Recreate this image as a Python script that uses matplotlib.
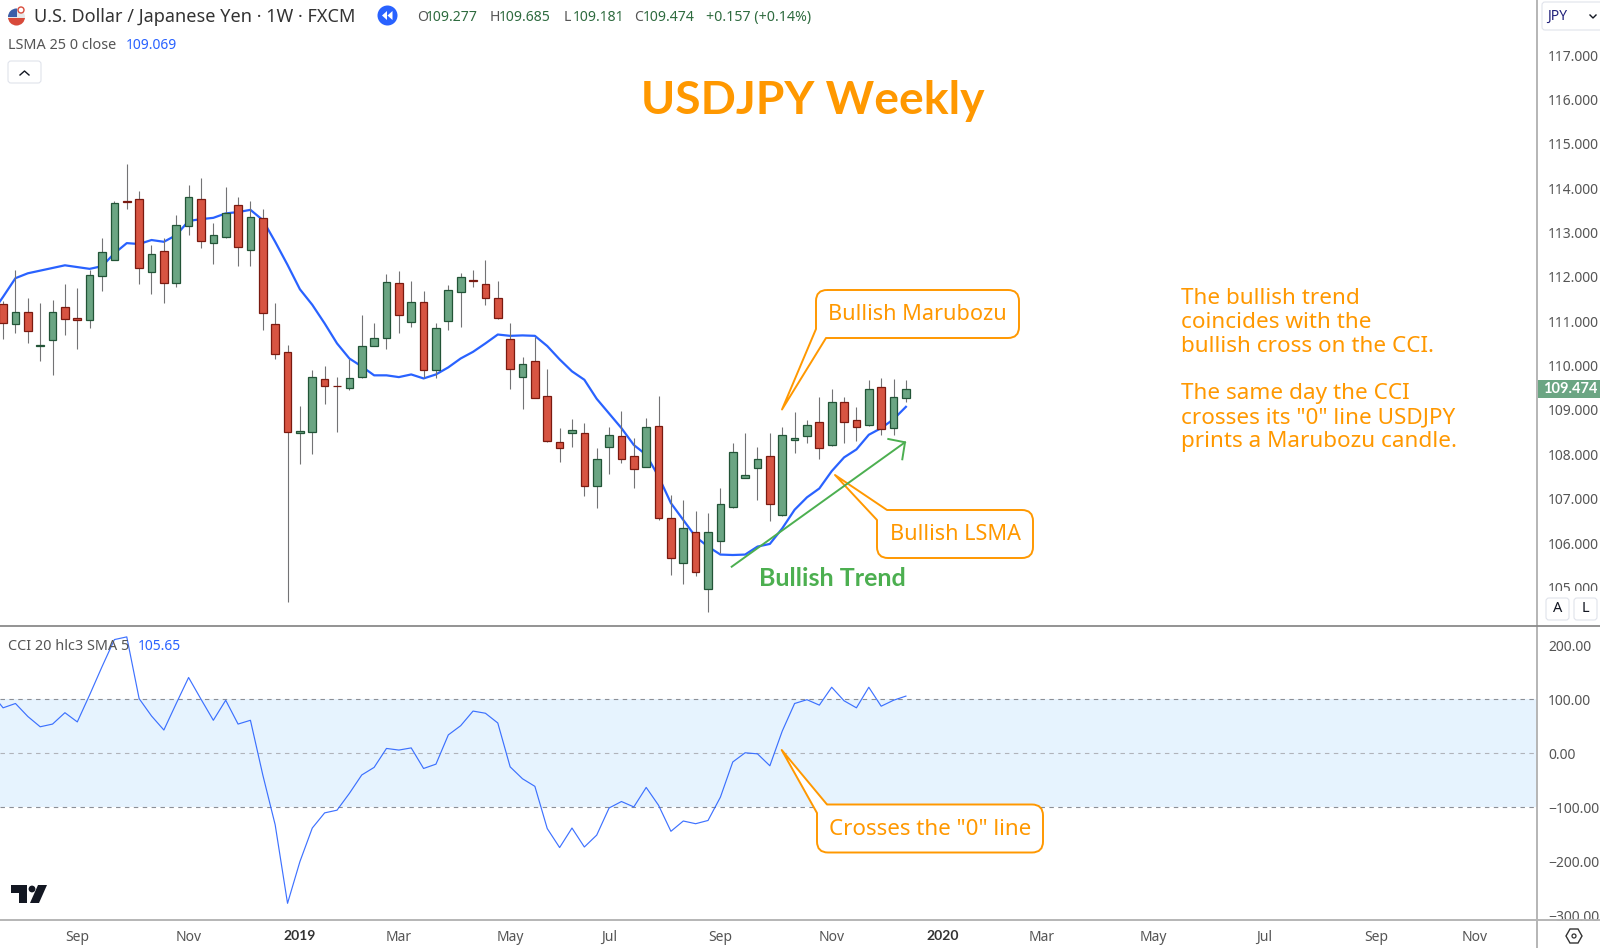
from matplotlib import pyplot as plt
from matplotlib.patches import Circle, FancyBboxPatch, PathPatch, Polygon, Rectangle
from matplotlib.path import Path
import numpy as np

# weekly candles, one row of values per bar
opens = [111.38, 110.93, 111.20, 110.45, 110.58, 111.31, 111.07, 111.03, 112.01, 112.39,
         113.70, 113.75, 112.12, 112.58, 111.85, 113.15, 113.76, 112.76, 112.89, 113.63,
         112.60, 113.32, 110.93, 110.31, 108.49, 108.50, 109.69, 109.535, 109.50, 109.74,
         110.43, 110.63, 111.85, 110.99, 111.43, 109.90, 111.01, 111.65, 111.925, 111.84,
         111.52, 110.59, 109.75, 110.10, 109.32, 108.27, 108.47, 108.47, 107.29, 108.17,
         108.41, 107.96, 107.71, 108.63, 106.57, 105.54, 106.24, 104.97, 106.05, 106.81,
         107.46, 107.70, 107.96, 106.63, 108.32, 108.41, 108.72, 108.21, 109.17, 108.77,
         108.66, 109.51, 108.60, 109.277]
highs = [111.45, 112.15, 111.52, 111.42, 111.48, 111.83, 111.74, 112.15, 112.88, 113.71,
         114.54, 113.94, 112.72, 112.88, 113.39, 114.07, 114.22, 113.21, 114.03, 113.81,
         113.71, 113.52, 111.40, 110.46, 109.08, 109.89, 109.99, 109.74, 110.15, 111.13,
         110.95, 112.07, 112.13, 111.90, 111.68, 110.95, 111.81, 112.08, 112.16, 112.38,
         111.90, 110.95, 110.19, 110.65, 109.92, 108.60, 108.79, 108.70, 108.15, 108.62,
         108.98, 108.36, 108.81, 109.31, 107.08, 106.97, 106.72, 106.67, 107.23, 108.25,
         108.47, 108.17, 108.47, 108.62, 108.95, 108.77, 109.29, 109.47, 109.29, 109.07,
         109.68, 109.71, 109.70, 109.685]
lows = [110.60, 110.73, 110.52, 110.11, 109.79, 110.68, 110.37, 110.85, 111.67, 112.39,
        113.53, 111.84, 111.62, 111.40, 111.78, 112.95, 112.66, 112.30, 112.87, 112.24,
        112.24, 110.80, 110.15, 104.67, 107.78, 108.00, 109.14, 108.51, 109.44, 109.73,
        110.43, 110.37, 110.74, 110.88, 109.71, 109.71, 110.81, 110.86, 111.78, 111.37,
        111.05, 109.47, 109.02, 109.26, 108.27, 107.82, 108.17, 107.05, 106.78, 107.55,
        107.80, 107.23, 107.71, 106.52, 105.28, 105.07, 105.26, 104.45, 105.77, 106.78,
        107.46, 106.97, 106.50, 106.62, 108.04, 108.25, 107.89, 108.19, 108.25, 108.29,
        108.64, 108.44, 108.44, 109.181]
closes = [110.97, 111.20, 110.79, 110.46, 111.20, 111.04, 111.03, 112.04, 112.55, 113.66,
          113.69, 112.19, 112.51, 111.87, 113.17, 113.79, 112.81, 112.94, 113.45, 112.68,
          113.36, 111.18, 110.25, 108.50, 108.53, 109.75, 109.54, 109.53, 109.71, 110.43,
          110.62, 111.88, 111.14, 111.43, 109.90, 110.84, 111.70, 111.99, 111.915, 111.53,
          111.07, 109.92, 110.04, 109.26, 108.29, 108.15, 108.55, 107.29, 107.89, 108.44,
          107.89, 107.68, 108.62, 106.57, 105.67, 106.33, 105.35, 106.24, 106.89, 108.05,
          107.53, 107.90, 106.89, 108.43, 108.36, 108.66, 108.15, 109.19, 108.72, 108.62,
          109.47, 108.56, 109.30, 109.474]

# these two also have the bar before the first visible candle
lsma = [111.15, 111.55, 111.97, 112.08, 112.14, 112.20, 112.26, 112.22, 112.18, 112.24, 112.53,
        112.76, 112.74, 112.83, 112.79, 112.94, 113.26, 113.30, 113.33, 113.43, 113.46,
        113.51, 113.28, 112.79, 112.27, 111.72, 111.37, 110.95, 110.50, 110.16, 109.98,
        109.78, 109.78, 109.74, 109.80, 109.71, 109.80, 109.96, 110.16, 110.31, 110.50,
        110.70, 110.67, 110.68, 110.67, 110.44, 110.14, 109.87, 109.68, 109.25, 108.92,
        108.59, 108.21, 107.99, 107.50, 106.90, 106.52, 106.14, 105.92, 105.74, 105.73,
        105.74, 105.92, 105.98, 106.33, 106.75, 107.03, 107.23, 107.62, 107.93, 108.11,
        108.44, 108.59, 108.79, 109.07]
cci = [112, 84, 92, 68, 49, 54, 75, 58, 108, 160, 210,
       215, 101, 69, 43, 92, 140, 100, 61, 98, 54,
       61, -40, -132, -277, -200, -138, -110, -105, -74, -40,
       -26, 9, 6, 10, -28, -20, 34, 51, 78, 74,
       56, -25, -47, -61, -139, -174, -138, -173, -151, -101,
       -89, -99, -63, -96, -144, -125, -130, -124, -81, -16,
       1, -1, -23, 41, 92, 99, 89, 122, 97, 84,
       122, 87, 98, 105.65]

price_ticks = [105, 106, 107, 108, 109, 110, 111, 112, 113, 114, 115, 116, 117]
cci_ticks = [200, 100, 0, -100, -200, -300]
time_bars = [6, 15, 24, 32, 41, 49, 58, 67, 76, 84, 93, 102, 111, 119]
time_labels = ['Sep', 'Nov', '2019', 'Mar', 'May', 'Jul', 'Sep', 'Nov', '2020', 'Mar', 'May', 'Jul', 'Sep', 'Nov']

UP = '#6ba583'
DOWN = '#d75442'
UP_EDGE = '#225437'
DOWN_EDGE = '#7a1a10'
BLUE = '#2962ff'
ORANGE = '#ff9800'
GREEN = '#4caf50'
GREY = '#555555'
FONT = 'Noto Sans'
BOLD = 'Lato'

W, H = 1600, 948
plt.rcParams['font.family'] = FONT
fig = plt.figure(figsize=(W / 100, H / 100), dpi=100)


def axes_px(left, top, right, bottom):
    return fig.add_axes([left / W, 1 - bottom / H, (right - left) / W, (bottom - top) / H])


# pixel positions of the chart frame
ax = axes_px(0, 0, 1537, 626)
ax2 = axes_px(0, 626, 1537, 920)

xlim = (-0.25, 124.03)
ax.set_xlim(xlim)
ax2.set_xlim(xlim)
ax.set_ylim(104.13, 118.24)
ax2.set_ylim(-307.8, 235.1)

# candles
bars = np.arange(len(opens))
o = np.array(opens)
c = np.array(closes)
up = c >= o
ax.plot(np.arange(-1, 74), lsma, color=BLUE, lw=1.6, zorder=2, solid_joinstyle='round')
ax.vlines(bars, lows, highs, color='#737375', lw=0.8, zorder=3)
ax.bar(bars, np.abs(c - o), bottom=np.minimum(o, c), width=0.62,
       color=[UP if u else DOWN for u in up],
       edgecolor=[UP_EDGE if u else DOWN_EDGE for u in up], linewidth=0.9, zorder=4)

ax2.axhspan(-100, 100, color='#e6f3fe', lw=0, zorder=1)
ax2.axhline(100, color='#8c8f96', lw=0.8, dashes=(4, 4), zorder=2)
ax2.axhline(0, color='#b0b3ba', lw=0.8, dashes=(4, 4), zorder=2)
ax2.axhline(-100, color='#8c8f96', lw=0.8, dashes=(4, 4), zorder=2)
ax2.plot(np.arange(-1, 74), cci, color=BLUE, lw=0.85, zorder=3, alpha=0.9)

for a in (ax, ax2):
    a.yaxis.tick_right()
    a.tick_params(axis='y', length=0, pad=8, labelsize=10, labelcolor=GREY)
    for s in ('left', 'top', 'bottom'):
        a.spines[s].set_visible(False)
    a.spines['right'].set_color('#b5b5b5')
    a.spines['right'].set_linewidth(1.4)

ax.set_xticks([])
ax.set_yticks(price_ticks, ['%.3f' % v for v in price_ticks])
ax2.set_yticks(cci_ticks, [('%.2f' % v).replace('-', '\u2212') for v in cci_ticks])
ax2.set_xticks(time_bars, time_labels)
ax2.tick_params(axis='x', length=0, pad=7, labelsize=10, labelcolor=GREY)
for t in ax2.get_xticklabels():
    if t.get_text() in ('2019', '2020'):
        t.set_fontfamily(BOLD)
        t.set_fontweight('bold')
        t.set_fontsize(10)
        t.set_color('#333333')

# overlay in pixels for all the drawn notes and toolbar bits
ov = fig.add_axes([0, 0, 1, 1], zorder=10)
ov.set_xlim(0, W)
ov.set_ylim(H, 0)
ov.axis('off')
ov.patch.set_alpha(0)

# cover labels cut by the buttons and the time axis, then frame lines
ov.add_patch(Rectangle((1538, 591), 62, 34, color='white', lw=0))
ov.add_patch(Rectangle((1538, 921), 62, 27, color='white', lw=0))
ov.plot([0, 1600], [626, 626], color='#8a8a8a', lw=1.3)
ov.plot([0, 1600], [920, 920], color='#b5b5b5', lw=1.4)
ov.plot([1537, 1537], [920, 948], color='#b5b5b5', lw=1.4)


def btn(x, y, w, h, label, size=10.5, color='#131722'):
    ov.add_patch(FancyBboxPatch((x, y), w, h, boxstyle='round,pad=0,rounding_size=3',
                                fc='white', ec='#e0e3eb', lw=0.8))
    if label:
        ov.text(x + w / 2, y + h / 2, label, ha='center', va='center', fontsize=size, color=color)


btn(1542, 2, 70, 28, '')
ov.text(1557, 16, 'JPY', ha='center', va='center', fontsize=10, color='#20207a')
ov.plot([1590, 1593, 1596], [15, 18, 15], color='#131722', lw=1)
btn(1546, 598, 23, 22, 'A')
btn(1574, 598, 23, 22, 'L')
btn(8, 61, 33, 22, '')
ov.plot([20, 24.5, 29], [75, 71, 75], color='#131722', lw=1)

# settings icon
ov.add_patch(Polygon([(1566, 936), (1570, 929), (1578, 929), (1582, 936), (1578, 943), (1570, 943)],
                     closed=True, fc='white', ec='#333333', lw=1))
ov.add_patch(Circle((1574, 936), 2, fc='white', ec='#333333', lw=0.9))

# round flag, clipped to its circle
flag = Circle((16.5, 17), 8.5, fc='#e8e8e8', ec='none')
ov.add_patch(flag)
for r in [Rectangle((8, 8), 9, 9, color='#3c5ea8', lw=0), Rectangle((8, 18), 17, 8, color='#d84a3a', lw=0)]:
    ov.add_patch(r)
    r.set_clip_path(flag)
ov.add_patch(Circle((21, 10), 3, fc='white', ec='#d84a3a', lw=1))

ov.text(34, 17, 'U.S. Dollar / Japanese Yen \u00b7 1W \u00b7 FXCM', va='center', fontsize=13, color='#333333')
ov.add_patch(Circle((387.5, 15.5), 10, color=BLUE, lw=0))
for dx in (0, 5.5):
    ov.add_patch(Polygon([(382 + dx, 15.5), (387 + dx, 11), (387 + dx, 20)], closed=True, color='white', lw=0))

ohlc_green = '#2e6b3f'
for x, letter, val in [(417, 'O', '109.277'), (490, 'H', '109.685'), (564, 'L', '109.181'), (634, 'C', '109.474')]:
    t = ov.text(x, 17, letter, va='center', fontsize=10.1, color=GREY)
    ov.text(x + 9, 17, val, va='center', fontsize=10.1, color=ohlc_green)
ov.text(706, 17, '+0.157 (+0.14%)', va='center', fontsize=10.2, color=ohlc_green)
ov.text(8, 45, 'LSMA 25 0 close', va='center', fontsize=10.4, color=GREY)
ov.text(126, 45, '109.069', va='center', fontsize=10, color=BLUE)
ov.text(8, 647, 'CCI 20 hlc3 SMA 5', va='center', fontsize=10.4, color=GREY)
ov.text(138, 647, '105.65', va='center', fontsize=10, color=BLUE)

# last price tag
ov.add_patch(Rectangle((1538, 379.5), 62, 18.5, color=UP, lw=0))
ov.text(1570, 389, '109.474', ha='center', va='center', fontsize=10.5, color='white', fontfamily=BOLD, fontweight='bold')

# tradingview logo
ov.add_patch(Polygon([(11, 885), (27, 885), (27, 903), (19, 903), (19, 893), (11, 893)], closed=True, color='#131722', lw=0))
ov.add_patch(Circle((32, 889), 3.4, color='#131722', lw=0))
ov.add_patch(Polygon([(38, 885), (47, 885), (39, 903), (30, 903)], closed=True, color='#131722', lw=0))

# title and notes
ov.text(813, 101, 'USDJPY Weekly', ha='center', va='center', fontsize=33.3, fontfamily=BOLD, fontweight='bold', color=ORANGE)
for y, line in [(299, 'The bullish trend'), (323, 'coincides with the'), (347, 'bullish cross on the CCI.'),
                (394, 'The same day the CCI'), (418, 'crosses its "0" line USDJPY'), (441, 'prints a Marubozu candle.')]:
    ov.text(1181, y, line, va='center', fontsize=16.2, color=ORANGE)
ov.text(832, 578, 'Bullish Trend', ha='center', va='center', fontsize=18, fontfamily=BOLD, fontweight='bold', color=GREEN)

# trend arrow
ov.plot([731.7, 905], [566.7, 442.3], color=GREEN, lw=1.4)
ov.plot([888.3, 905, 902.3], [439, 442.3, 459.3], color=GREEN, lw=1.4)


def callout(left, top, right, bottom, tip, tail_a, tail_b, label, size=15.6, r=11):
    # tail_a / tail_b sit on the box outline, going clockwise from tail_a to tail_b through the tip
    verts = [(left + r, top), (right - r, top), (right, top), (right, top + r),
             (right, bottom - r), (right, bottom), (right - r, bottom),
             (left + r, bottom), (left, bottom), (left, bottom - r),
             (left, top + r), (left, top), (left + r, top)]
    codes = [Path.MOVETO, Path.LINETO, Path.CURVE3, Path.CURVE3, Path.LINETO, Path.CURVE3, Path.CURVE3,
             Path.LINETO, Path.CURVE3, Path.CURVE3, Path.LINETO, Path.CURVE3, Path.CURVE3]
    if tail_a[1] == bottom:
        # tail leaves bottom-left corner
        verts = verts[:7] + [tail_a, tip, tail_b] + verts[10:]
        codes = codes[:7] + [Path.LINETO, Path.LINETO, Path.LINETO] + codes[10:]
    else:
        # tail leaves top-left corner
        verts = verts[:10] + [tail_a, tip, tail_b] + [(left + r, top)]
        codes = codes[:10] + [Path.LINETO, Path.LINETO, Path.LINETO, Path.LINETO]
    ov.add_patch(PathPatch(Path(verts, codes), fc='white', ec=ORANGE, lw=1.4, joinstyle='round'))
    ov.text((left + right) / 2, (top + bottom) / 2 + 1, label, ha='center', va='center', fontsize=size, color=ORANGE)


callout(816, 290, 1019, 338, (782, 409.5), (826, 338), (816, 329), 'Bullish Marubozu')
callout(877, 510, 1033, 558, (835, 475), (877, 520), (887, 510), 'Bullish LSMA')
callout(817, 804.5, 1043, 852.5, (781.7, 750), (817, 813), (827, 804.5), 'Crosses the "0" line', size=16.1)

fig.savefig('out.png', dpi=100)
